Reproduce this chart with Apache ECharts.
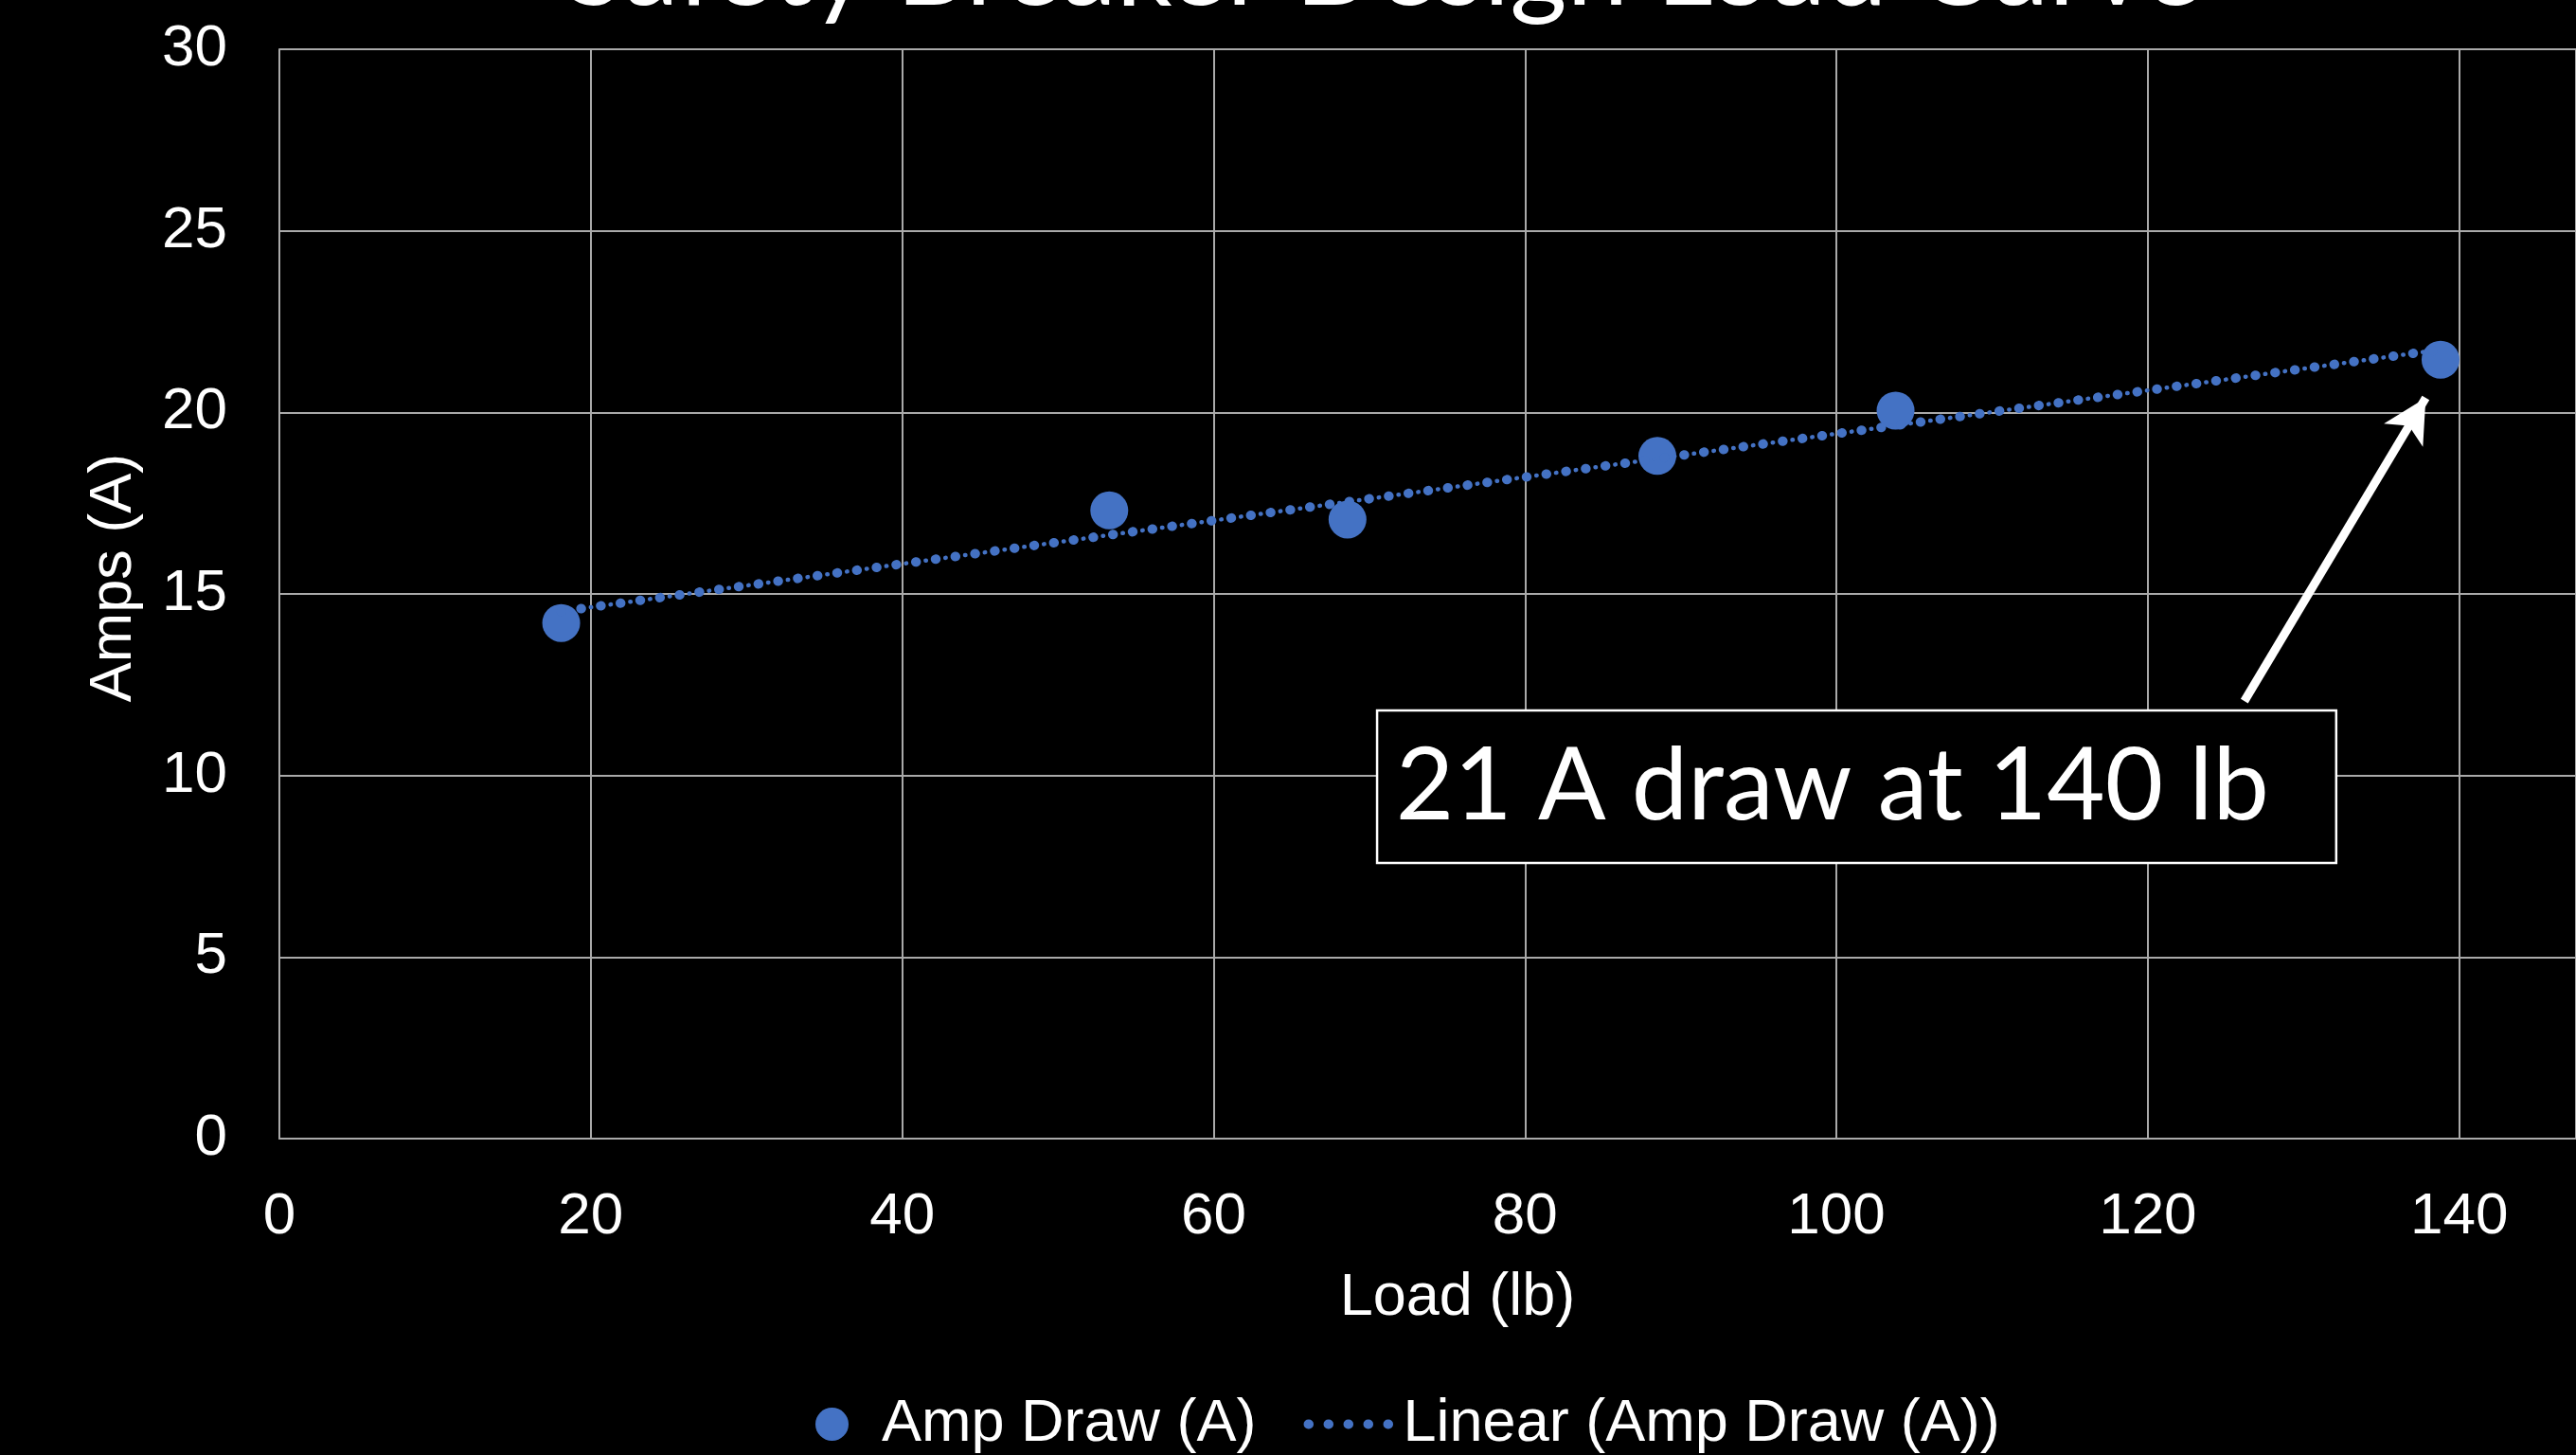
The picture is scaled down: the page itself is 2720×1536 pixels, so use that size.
<!DOCTYPE html>
<html>
<head>
<meta charset="utf-8">
<script src="https://cdn.jsdelivr.net/npm/echarts@6/dist/echarts.min.js"></script>
<style>
html,body{margin:0;padding:0;background:#000;}
#chart{width:2720px;height:1536px;}
</style>
</head>
<body>
<div id="chart"></div>
<script>
// ---- data ----
const loadLb   = [18.1, 53.3, 68.6, 88.5, 103.8, 138.8];
const ampDraw  = [14.2, 17.3, 17.05, 18.8, 20.05, 21.45];
const trendLoad = [18.1, 138.8];
const trendAmps = [14.52, 21.73];
const titleText = 'Safety Breaker Design Load Curve';
const noteText = '21 A draw at 140 lb';
const seriesNames = ['Amp Draw (A)', 'Linear (Amp Draw (A))'];
const axisNames = ['Load (lb)', 'Amps (A)'];

const BLUE = '#4472C4';
const GRIDC = '#a9a9a9';
const AXFONT = '"Liberation Sans", Arial, Helvetica, sans-serif';
const CALFONT = 'Lato, "Open Sans", sans-serif';
const DOTS = [0.5, 20.5];

const scatterData = loadLb.map((x, i) => [x, ampDraw[i]]);
const trendData = trendLoad.map((x, i) => [x, trendAmps[i]]);

const chart = echarts.init(document.getElementById('chart'), null, {renderer: 'canvas'});
chart.setOption({
  backgroundColor: '#000',
  animation: false,
  grid: {left: 295, top: 52, right: 0, height: 1150, containLabel: false},
  graphic: [{
    type: 'text', x: 1461, y: -32, z: 10,
    style: {text: titleText, fill: '#fff', font: '116px ' + CALFONT, align: 'center', verticalAlign: 'middle'}
  }],
  xAxis: {
    type: 'value', min: 0, max: 147.5, interval: 20,
    name: axisNames[0], nameLocation: 'middle', nameGap: 137,
    nameTextStyle: {color: '#fff', fontSize: 63, fontFamily: AXFONT, padding: [0, 0, 0, 63]},
    axisLine: {show: true, lineStyle: {color: GRIDC, width: 2}},
    axisTick: {show: false},
    axisLabel: {color: '#fff', fontSize: 62, fontFamily: AXFONT, margin: 52, showMaxLabel: false},
    splitLine: {show: true, lineStyle: {color: GRIDC, width: 2}}
  },
  yAxis: {
    type: 'value', min: 0, max: 30, interval: 5,
    name: axisNames[1], nameLocation: 'middle', nameGap: 143,
    nameTextStyle: {color: '#fff', fontSize: 63, fontFamily: AXFONT, padding: [0, 0, 0, 34]},
    axisLine: {show: true, lineStyle: {color: GRIDC, width: 2}},
    axisTick: {show: false},
    axisLabel: {color: '#fff', fontSize: 62, fontFamily: AXFONT, margin: 55},
    splitLine: {show: true, lineStyle: {color: GRIDC, width: 2}}
  },
  legend: {
    data: [
      {name: seriesNames[0]},
      {name: seriesNames[1],
       itemStyle: {color: 'rgba(0,0,0,0)', borderWidth: 0, opacity: 0},
       lineStyle: {color: BLUE, width: 10, type: DOTS, cap: 'round', opacity: 1}}
    ],
    left: 856, top: 1467,
    itemWidth: 95, itemHeight: 35, itemGap: 50,
    textStyle: {color: '#fff', fontSize: 63, fontFamily: AXFONT},
    selectedMode: false
  },
  series: [
    {
      name: seriesNames[0], type: 'scatter', data: scatterData,
      symbol: 'circle', symbolSize: 40, z: 3,
      itemStyle: {color: BLUE, opacity: 1},
      silent: true,
      markArea: {
        silent: true,
        itemStyle: {color: '#000', borderColor: '#fff', borderWidth: 2.5, opacity: 1},
        label: {show: true, position: 'insideLeft', distance: 21, color: '#fff', fontSize: 106, fontFamily: CALFONT, formatter: noteText},
        data: [[{coord: [70.5, 11.79]}, {coord: [132.1, 7.59]}]]
      },
      markLine: {
        silent: true,
        symbol: ['none', 'arrow'], symbolSize: [36, 46],
        label: {show: false},
        lineStyle: {color: '#fff', width: 9, type: 'solid', opacity: 1},
        emphasis: {disabled: true},
        data: [[{coord: [126.2, 12.05]}, {coord: [137.85, 20.4]}]]
      }
    },
    {
      name: seriesNames[1], type: 'line', data: trendData,
      symbol: 'none', z: 4, silent: true,
      itemStyle: {color: BLUE},
      lineStyle: {color: BLUE, width: 10, type: DOTS, cap: 'round'}
    },
    {
      name: 'trendMinor', type: 'line', data: trendData,
      symbol: 'none', z: 4, silent: true,
      itemStyle: {color: BLUE},
      lineStyle: {color: BLUE, width: 4.5, type: DOTS, dashOffset: -10.5, cap: 'round'}
    }
  ]
});
</script>
</body>
</html>
